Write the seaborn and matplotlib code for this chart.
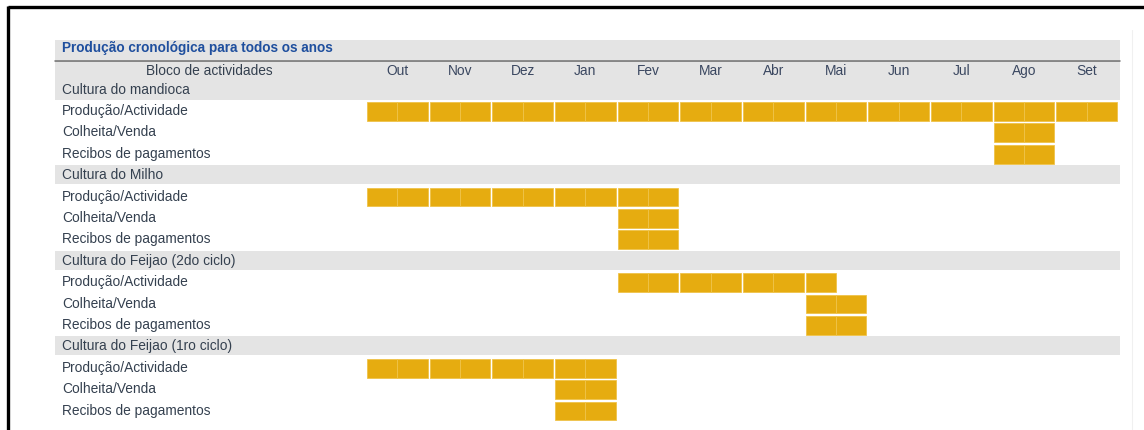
import matplotlib
matplotlib.use("Agg")
import matplotlib.pyplot as plt
import seaborn as sns

# ---- data ----
months = ["Out", "Nov", "Dez", "Jan", "Fev", "Mar", "Abr", "Mai", "Jun", "Jul", "Ago", "Set"]
crops = ["Cultura do mandioca", "Cultura do Milho",
         "Cultura do Feijao (2do ciclo)", "Cultura do Feijao (1ro ciclo)"]
activities = ["Produção/Actividade", "Colheita/Venda", "Recibos de pagamentos"]
# (first month, number of half-months) for each activity
mandioca_spans = [("Out", 24), ("Ago", 2), ("Ago", 2)]
milho_spans = [("Out", 10), ("Fev", 2), ("Fev", 2)]
feijao2_spans = [("Fev", 7), ("Mai", 2), ("Mai", 2)]
feijao1_spans = [("Out", 8), ("Jan", 2), ("Jan", 2)]
crop_spans = [mandioca_spans, milho_spans, feijao2_spans, feijao1_spans]
title = "Produção cronológica para todos os anos"
header = "Bloco de actividades"

# ---- style ----
sns.set_theme(style="white")
plt.rcParams["font.family"] = ["Liberation Sans", "DejaVu Sans"]

W, H = 1144, 430
fig = plt.figure(figsize=(W / 100, H / 100), dpi=100)
ax = fig.add_axes([0, 0, 1, 1])
ax.set_axis_off()

x0_px, unit_px = 366.0, 31.33     # pixel of half-month 0, pixel per half-month
y0_px, row_px = 89.0, 21.4         # pixel of row 0 centre, pixel per row
ax.set_xlim(-x0_px / unit_px, (W - x0_px) / unit_px)
ax.set_ylim((H - y0_px) / row_px, -y0_px / row_px)

def px_x(p):
    return (p - x0_px) / unit_px

def px_y(p):
    return (p - y0_px) / row_px

gold = "#E6AC10"
gold_edge = "#EFC34A"
gray = "#E4E4E4"
txt = "#34404F"
fs = 9.9
xa, xb = 55 / W, 1120 / W

# title band, separator line, header band
ax.axhspan(px_y(40), px_y(60), xmin=xa, xmax=xb, color=gray, lw=0, zorder=0)
ax.axhline(px_y(60.5), xmin=xa, xmax=xb, color="#6a6a6a", lw=1.1, zorder=2)
ax.axhspan(px_y(61), px_y(100), xmin=xa, xmax=xb, color=gray, lw=0, zorder=0)

ax.text(px_x(62), px_y(48), title, color="#1F4F9E", fontsize=9.8,
        fontweight="bold", va="center", ha="left")
ax.text(px_x(209), px_y(71), header, color=txt, fontsize=fs, va="center", ha="center")
for m, name in enumerate(months):
    ax.text(2 * m + 1, px_y(71), name, color="#3A4760", fontsize=fs,
            va="center", ha="center")

gap = 0.07
row = 0
for crop, spans in zip(crops, crop_spans):
    if row > 0:
        ax.axhspan(row - 0.45, row + 0.45, xmin=xa, xmax=xb, color=gray, lw=0, zorder=0)
    ax.text(px_x(62), row + 0.03, crop, color=txt, fontsize=fs, va="center", ha="left")
    row += 1
    for act, (start_month, n_half) in zip(activities, spans):
        ax.text(px_x(62), row + 0.03, act, color=txt, fontsize=fs, va="center", ha="left")
        s = 2 * months.index(start_month)
        for h in range(s, s + n_half):
            if h % 2 == 0:
                left, width = h + gap / 2, 1 - gap / 2
            else:
                left, width = h, 1 - gap / 2
            ax.barh(row + 0.05, width, left=left, height=0.88, color=gold,
                    edgecolor=gold_edge, linewidth=0.6, zorder=3)
        row += 1

# outer frame
ax.plot([px_x(8), px_x(W + 5)], [px_y(7), px_y(7)], color="black", lw=2.4,
        solid_capstyle="butt", zorder=5, clip_on=False)
ax.plot([px_x(8), px_x(8)], [px_y(6), px_y(H + 5)], color="black", lw=2.4,
        solid_capstyle="butt", zorder=5, clip_on=False)
ax.plot([px_x(1132), px_x(1132)], [px_y(30), px_y(H)], color="#f0f0f0", lw=0.8, zorder=1)

fig.savefig("out.png", dpi=100)
